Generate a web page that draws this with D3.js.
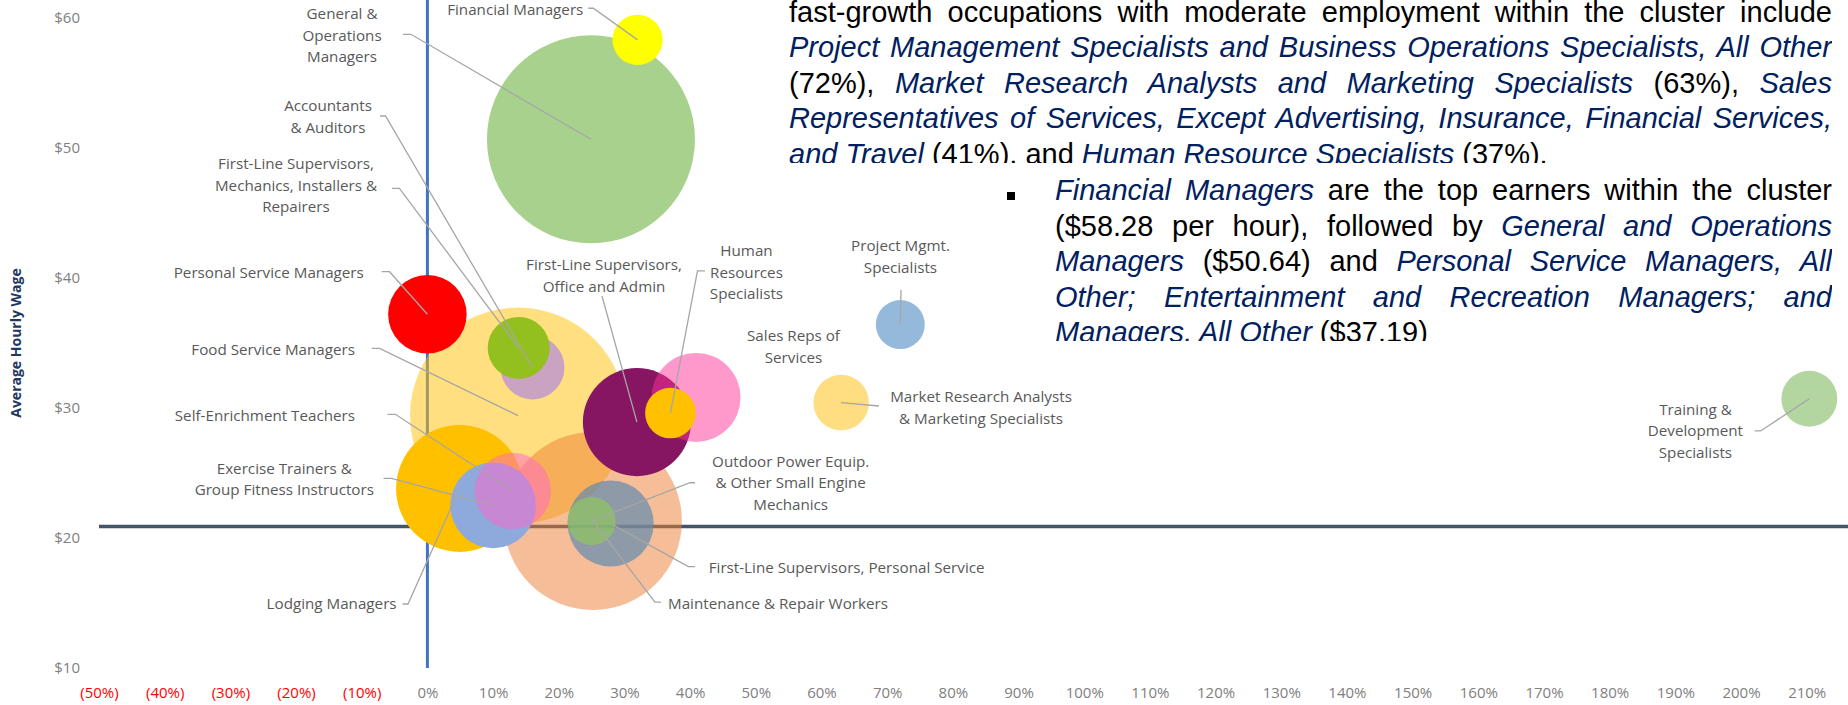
<!DOCTYPE html>
<html><head><meta charset="utf-8">
<script src="https://cdn.jsdelivr.net/npm/d3@7"></script>
<style>
body{margin:0;background:#fff;width:1848px;height:705px;overflow:hidden;position:relative}
svg{position:absolute;left:0;top:0}
.box{position:absolute;background:#fff;overflow:hidden;font-family:"Liberation Sans",Arial,sans-serif;font-size:29px;color:#000}
.ln{position:absolute;white-space:nowrap;line-height:35.5px;text-align:justify;text-align-last:justify}
.ln.last{text-align-last:left}
.b{color:#002060;font-style:italic}
.bullet{position:absolute;width:8px;height:8px;background:#000}
</style></head><body>
<svg id="chart" width="1848" height="705"></svg>
<div id="box1" class="box" style="left:789px;top:0px;width:1043px;height:162.5px"></div>
<div id="box2" class="box" style="left:970px;top:170px;width:862px;height:170.5px"></div>
<script>
// ---------------- data ----------------
const names = ["Food Service Managers","Personal Service Managers","Accountants & Auditors",
  "First-Line Supervisors, Mechanics, Installers & Repairers","General & Operations Managers",
  "Financial Managers","Lodging Managers","Maintenance & Repair Workers",
  "First-Line Supervisors, Office and Admin","Exercise Trainers & Group Fitness Instructors",
  "Self-Enrichment Teachers","First-Line Supervisors, Personal Service",
  "Outdoor Power Equip. & Other Small Engine Mechanics","Sales Reps of Services",
  "Human Resources Specialists","Project Mgmt. Specialists",
  "Market Research Analysts & Marketing Specialists","Training & Development Specialists"];
const growth = [0.138,0.000,0.160,0.139,0.249,0.320,0.049,0.252,0.319,0.100,0.130,0.279,0.250,0.409,0.370,0.720,0.630,2.104];
const wage   = [29.4,37.19,33.1,34.6,50.64,58.28,23.8,21.3,28.9,22.5,23.6,21.1,21.3,30.8,29.6,36.4,30.4,30.7];
const employment = [1166,154,102,96,1082,63,403,792,292,183,146,185,58,198,64,60,77,78];
const colors = ["#FFC000","#FF0000","#C9A3C1","#93C01F","#A9D18E","#FFFF00","#FFC000","#ED7D31",
  "#861661","#8EA9DB","#FF66CC","#638AAF","#8FC55E","#FF3399","#FFC000","#95B9DB","#FFDE82","#B3D5A0"];
const opacities = [0.5,1,1,1,1,1,1,0.5,1,1,0.5,0.7,0.7,0.5,1,1,1,1];
const xTickValues = [-0.5,-0.4,-0.3,-0.2,-0.1,0,0.1,0.2,0.3,0.4,0.5,0.6,0.7,0.8,0.9,1.0,1.1,1.2,1.3,1.4,1.5,1.6,1.7,1.8,1.9,2.0,2.1];
const yTickValues = [10,20,30,40,50,60];
const medianWage = 20.88;
const yTitle = "Average Hourly Wage";

// label layout (data units): lines, anchor, label position, leader bends
const labelLayout = [
  {i:4, lines:["General &","Operations","Managers"], anchor:"middle", at:[-0.130,60.27], leader:[[-0.0372,58.71],[-0.0250,58.71]]},
  {i:5, lines:["Financial Managers"], anchor:"end", at:[0.2374,60.58], leader:[[0.2450,60.71],[0.2526,60.71]]},
  {i:2, lines:["Accountants","& Auditors"], anchor:"middle", at:[-0.1513,53.20], leader:[[-0.0722,52.43],[-0.0638,52.43]]},
  {i:3, lines:["First-Line Supervisors,","Mechanics, Installers &","Repairers"], anchor:"middle", at:[-0.2001,48.73], leader:[[-0.0539,46.87],[-0.0426,46.87]]},
  {i:1, lines:["Personal Service Managers"], anchor:"end", at:[-0.0968,40.38], leader:[[-0.0697,40.46],[-0.0577,40.46]]},
  {i:0, lines:["Food Service Managers"], anchor:"end", at:[-0.1102,34.50], leader:[[-0.0848,34.57],[-0.0728,34.57]]},
  {i:10, lines:["Self-Enrichment Teachers"], anchor:"end", at:[-0.1102,29.39], leader:[[-0.0607,29.50],[-0.0487,29.50]]},
  {i:9, lines:["Exercise Trainers &","Group Fitness Instructors"], anchor:"middle", at:[-0.2179,25.35], leader:[[-0.0668,24.58],[-0.0547,24.58]]},
  {i:6, lines:["Lodging Managers"], anchor:"end", at:[-0.0469,14.92], leader:[[-0.0379,14.92],[-0.0295,14.92]]},
  {i:8, lines:["First-Line Supervisors,","Office and Admin"], anchor:"middle", at:[0.2689,40.98], leader:[[0.2658,38.59]]},
  {i:14, lines:["Human","Resources","Specialists"], anchor:"middle", at:[0.4858,42.05], leader:[[0.4227,40.52],[0.4112,40.52]]},
  {i:15, lines:["Project Mgmt.","Specialists"], anchor:"middle", at:[0.7203,42.44], leader:[[0.7211,39.05]]},
  {i:13, lines:["Sales Reps of","Services"], anchor:"middle", at:[0.5574,35.52], leader:null},
  {i:16, lines:["Market Research Analysts","& Marketing Specialists"], anchor:"middle", at:[0.8429,30.85], leader:[[0.6876,30.14]]},
  {i:12, lines:["Outdoor Power Equip.","& Other Small Engine","Mechanics"], anchor:"middle", at:[0.5531,25.86], leader:[[0.4074,24.24],[0.3998,24.24]]},
  {i:11, lines:["First-Line Supervisors, Personal Service"], anchor:"start", at:[0.4283,17.74], leader:[[0.4074,17.79],[0.3972,17.79]]},
  {i:7, lines:["Maintenance & Repair Workers"], anchor:"start", at:[0.3663,14.92], leader:[[0.3557,15.07],[0.3465,15.07]]},
  {i:17, lines:["Training &","Development","Specialists"], anchor:"middle", at:[1.9306,29.88], leader:[[2.0207,28.22],[2.0299,28.22]]}
];

// text boxes
const para1 = [
  [["n","fast-growth occupations with moderate employment within the cluster include"]],
  [["b","Project Management Specialists and Business Operations Specialists, All Other"]],
  [["n","(72%), "],["b","Market Research Analysts and Marketing Specialists"],["n"," (63%), "],["b","Sales"]],
  [["b","Representatives of Services, Except Advertising, Insurance, Financial Services,"]],
  [["b","and Travel"],["n"," (41%), and "],["b","Human Resource Specialists"],["n"," (37%)."]]
];
const para2 = [
  [["b","Financial Managers"],["n"," are the top earners within the cluster"]],
  [["n","($58.28 per hour), followed by "],["b","General and Operations"]],
  [["b","Managers"],["n"," ($50.64) and "],["b","Personal Service Managers, All"]],
  [["b","Other; Entertainment and Recreation Managers; and"]],
  [["b","Managers, All Other"],["n"," ($37.19)"]]
];

// ---------------- chart ----------------
const svg = d3.select("#chart");
const x = d3.scaleLinear().domain([-0.5, 2.1]).range([99, 1806.7]);
const y = d3.scaleLinear().domain([10, 60]).range([668, 17.5]);
const r = d3.scaleSqrt().domain([0, d3.max(employment)]).range([0, 108]);

// reference lines (below bubbles)
svg.append("line").attr("x1", x(0)).attr("x2", x(0)).attr("y1", y(10)).attr("y2", 0)
  .attr("stroke", "#4472C4").attr("stroke-width", 3);
svg.append("line").attr("x1", x(-0.5)).attr("x2", 1848).attr("y1", y(medianWage)).attr("y2", y(medianWage))
  .attr("stroke", "#44546A").attr("stroke-width", 3.5);

// bubbles
svg.append("g").selectAll("circle").data(d3.range(names.length)).join("circle")
  .attr("cx", i => x(growth[i])).attr("cy", i => y(wage[i])).attr("r", i => r(employment[i]))
  .attr("fill", i => colors[i]).attr("fill-opacity", i => opacities[i]);

// axes
const fmtX = v => { const p = Math.round(Math.abs(v) * 100); return v < -1e-9 ? "(" + p + "%)" : p + "%"; };
const xAxis = svg.append("g").attr("transform", `translate(0,${y(10)})`)
  .call(d3.axisBottom(x).tickValues(xTickValues).tickFormat(fmtX).tickSize(0).tickPadding(19));
xAxis.select(".domain").remove();
xAxis.selectAll("text").attr("font-family", "'Open Sans', sans-serif").attr("font-size", 15)
  .attr("fill", d => d < -1e-9 ? "#FF0000" : "#808080");

const yAxis = svg.append("g").attr("transform", "translate(80,0)")
  .call(d3.axisLeft(y).tickValues(yTickValues).tickFormat(v => "$" + v).tickSize(0).tickPadding(0));
yAxis.select(".domain").remove();
yAxis.selectAll("text").attr("font-family", "'Open Sans', sans-serif").attr("font-size", 15).attr("fill", "#808080");

svg.append("text").attr("transform", "translate(21,343) rotate(-90)").attr("text-anchor", "middle")
  .attr("font-family", "'Open Sans', sans-serif").attr("font-weight", "bold").attr("font-size", 14)
  .attr("fill", "#1F3864").text(yTitle);

// leader lines and labels
const lg = svg.append("g");
labelLayout.forEach(L => {
  if (L.leader) {
    const pts = L.leader.map(p => [x(p[0]), y(p[1])]);
    pts.push([x(growth[L.i]), y(wage[L.i])]);
    lg.append("path").attr("d", d3.line()(pts)).attr("fill", "none")
      .attr("stroke", "#A6A6A6").attr("stroke-width", 1.3);
  }
  const t = lg.append("text").attr("x", x(L.at[0])).attr("y", y(L.at[1]))
    .attr("text-anchor", L.anchor).attr("font-family", "'Open Sans', sans-serif")
    .attr("font-size", 15.2).attr("fill", "#595959");
  L.lines.forEach((s, k) => {
    t.append("tspan").attr("x", x(L.at[0])).attr("dy", k === 0 ? "0.35em" : 21.5).text(s);
  });
});

// ---------------- text boxes ----------------
function fill(box, para, left, width, firstBaseline) {
  para.forEach((runs, k) => {
    const d = box.append("div").attr("class", "ln" + (k === para.length - 1 ? " last" : ""))
      .style("left", left + "px").style("width", width + "px")
      .style("top", (firstBaseline + k * 35.5 - 27.8) + "px");
    runs.forEach(([c, s]) => d.append("span").attr("class", c === "b" ? "b" : null).text(s));
  });
}
fill(d3.select("#box1"), para1, 0, 1043, 22.5);
const b2 = d3.select("#box2");
b2.append("div").attr("class", "bullet").style("left", "37px").style("top", "22px");
fill(b2, para2, 85, 777, 31);
</script>
</body></html>
